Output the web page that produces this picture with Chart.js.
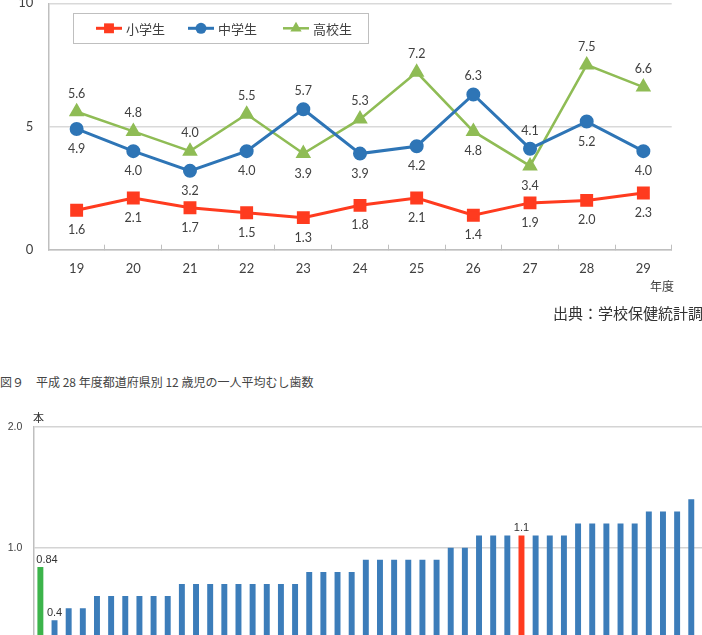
<!DOCTYPE html>
<html lang="ja">
<head>
<meta charset="utf-8">
<script src="https://cdn.jsdelivr.net/npm/chart.js@4.4.0/dist/chart.umd.min.js"></script>
<style>
  html, body { margin: 0; padding: 0; background: #fff; width: 702px; height: 635px; overflow: hidden; }
  body { position: relative; font-family: "Noto Sans CJK JP", sans-serif; }
  #trendWrap { position: absolute; left: 0; top: -10px; width: 702px; height: 305px; }
  #prefWrap { position: absolute; left: 0; top: 400px; width: 720px; height: 300px; }
  .note { position: absolute; white-space: nowrap; line-height: 1; color: #333; }
</style>
</head>
<body>
<div id="trendWrap"><canvas id="trendChart"></canvas></div>
<div class="note" style="left:650px; top:280px; font-size:12px; color:#404040;">年度</div>
<div class="note" style="left:553px; top:305px; font-size:15px;">出典：学校保健統計調査</div>
<div class="note" style="left:0; top:376px; font-size:12px; color:#444;">図９　平成 28 年度都道府県別 12 歳児の一人平均むし歯数</div>
<div id="prefWrap"><canvas id="prefChart"></canvas></div>
<div class="note" style="left:33px; top:412px; font-size:11px;">本</div>

<script>
// 年度別むし歯数
const years = ["19", "20", "21", "22", "23", "24", "25", "26", "27", "28", "29"];
const elementary = [1.6, 2.1, 1.7, 1.5, 1.3, 1.8, 2.1, 1.4, 1.9, 2.0, 2.3];
const juniorHigh = [4.9, 4.0, 3.2, 4.0, 5.7, 3.9, 4.2, 6.3, 4.1, 5.2, 4.0];
const highSchool = [5.6, 4.8, 4.0, 5.5, 3.9, 5.3, 7.2, 4.8, 3.4, 7.5, 6.6];
const yTicks = [0, 5, 10];

// which side the value label sits on (a = above, b = below)
const elementarySide = ["b", "b", "b", "b", "b", "b", "b", "b", "b", "b", "b"];
const juniorHighSide = ["b", "b", "b", "b", "a", "b", "b", "a", "a", "b", "b"];
const highSchoolSide = ["a", "a", "a", "a", "b", "a", "a", "b", "b", "a", "a"];

// 平成28年度 都道府県別 12歳児 (全国 + 昇順)
const prefCategories = ["全国", "1", "2", "3", "4", "5", "6", "7", "8", "9", "10",
    "11", "12", "13", "14", "15", "16", "17", "18", "19", "20",
    "21", "22", "23", "24", "25", "26", "27", "28", "29", "30",
    "31", "32", "33", "34", "35", "36", "37", "38", "39", "40",
    "41", "42", "43", "44", "45", "46", "47"];
const prefValues = [0.84, 0.4, 0.5, 0.5, 0.6, 0.6, 0.6, 0.6, 0.6, 0.6,
    0.7, 0.7, 0.7, 0.7, 0.7, 0.7, 0.7, 0.7, 0.7,
    0.8, 0.8, 0.8, 0.8,
    0.9, 0.9, 0.9, 0.9, 0.9, 0.9,
    1.0, 1.0,
    1.1, 1.1, 1.1, 1.1, 1.1, 1.1, 1.1,
    1.2, 1.2, 1.2, 1.2, 1.2,
    1.3, 1.3, 1.3,
    1.4, null];
const prefTicks = [0, 1, 2];
const nationalIdx = 0;
const ownPrefIdx = 34;
const labelledBars = [0, 1, 34];

const RED = "#ff3b1f";
const BLUE = "#2e75b6";
const GREEN = "#8fbc55";
const TEXT = "#404040";

const sideMap = [elementarySide, juniorHighSide, highSchoolSide];

const pointLabels = {
    id: "pointLabels",
    afterDatasetsDraw(chart) {
        const ctx = chart.ctx;
        ctx.save();
        ctx.font = "12.5px Lato";
        ctx.fillStyle = TEXT;
        ctx.textAlign = "center";
        ctx.textBaseline = "middle";
        chart.data.datasets.forEach((ds, i) => {
            const meta = chart.getDatasetMeta(i);
            meta.data.forEach((pt, j) => {
                const dy = sideMap[i][j] === "a" ? -18 : 20;
                ctx.fillText(ds.data[j].toFixed(1), pt.x, pt.y + dy);
            });
        });
        ctx.restore();
    }
};

function drawMarker(ctx, style, x, y, r, color) {
    ctx.fillStyle = color;
    ctx.beginPath();
    if (style === "rect") {
        const s = r * Math.SQRT1_2;
        ctx.rect(x - s, y - s, 2 * s, 2 * s);
    } else if (style === "triangle") {
        ctx.moveTo(x, y - r);
        ctx.lineTo(x + r * 0.866, y + r * 0.5);
        ctx.lineTo(x - r * 0.866, y + r * 0.5);
        ctx.closePath();
    } else {
        ctx.arc(x, y, r, 0, Math.PI * 2);
    }
    ctx.fill();
}

const boxLegend = {
    id: "boxLegend",
    afterDraw(chart) {
        const ctx = chart.ctx;
        ctx.save();
        ctx.fillStyle = "#fff";
        ctx.fillRect(73, 23, 295, 30);
        ctx.strokeStyle = "#bfbfbf";
        ctx.lineWidth = 1;
        ctx.strokeRect(73.5, 23.5, 295, 30);
        const starts = [96, 188, 283];
        const y = 38.3;
        chart.data.datasets.forEach((ds, i) => {
            const x0 = starts[i];
            ctx.strokeStyle = ds.borderColor;
            ctx.lineWidth = ds.borderWidth;
            ctx.beginPath();
            ctx.moveTo(x0, y);
            ctx.lineTo(x0 + 26, y);
            ctx.stroke();
            drawMarker(ctx, ds.pointStyle, x0 + 13, y, ds.pointRadius, ds.borderColor);
            ctx.fillStyle = TEXT;
            ctx.font = "13px 'Noto Sans CJK JP'";
            ctx.textAlign = "left";
            ctx.textBaseline = "middle";
            ctx.fillText(ds.label, x0 + 30, y + 0.5);
        });
        ctx.restore();
    }
};

new Chart(document.getElementById("trendChart"), {
    type: "line",
    data: {
        labels: years,
        datasets: [
            { label: "小学生", data: elementary, borderColor: RED, backgroundColor: RED, borderWidth: 3, pointStyle: "rect", pointRadius: 7 },
            { label: "中学生", data: juniorHigh, borderColor: BLUE, backgroundColor: BLUE, borderWidth: 3, pointStyle: "circle", pointRadius: 5.5 },
            { label: "高校生", data: highSchool, borderColor: GREEN, backgroundColor: GREEN, borderWidth: 2.5, pointStyle: "triangle", pointRadius: 6.5 }
        ]
    },
    options: {
        responsive: true,
        maintainAspectRatio: false,
        animation: false,
        layout: { autoPadding: false, padding: { top: 13.3, right: 30.3, left: 0, bottom: 0 } },
        elements: { line: { tension: 0 }, point: { borderWidth: 0, hoverRadius: 6 } },
        plugins: { legend: { display: false }, tooltip: { enabled: false } },
        scales: {
            x: {
                offset: true,
                grid: { offset: true, drawOnChartArea: false, drawTicks: true, tickLength: -5, color: "#bfbfbf" },
                border: { color: "#bfbfbf", width: 1.5 },
                ticks: { padding: 16.5, color: TEXT, font: { family: "Lato", size: 13 } },
                afterFit: s => { s.height = 305 - 259.7; }
            },
            y: {
                min: 0,
                max: 10,
                afterBuildTicks: s => { s.ticks = yTicks.map(v => ({ value: v })); },
                grid: { color: "#d9d9d9", lineWidth: 1.5, drawTicks: false },
                border: { color: "#bfbfbf", width: 1.5 },
                ticks: { padding: 15, color: TEXT, font: { family: "Lato", size: 13 } },
                afterFit: s => { s.width = 48.3; s.paddingTop = 0; s.paddingBottom = 0; }
            }
        }
    },
    plugins: [pointLabels, boxLegend]
});

const barLabels = {
    id: "barLabels",
    afterDatasetsDraw(chart) {
        const ctx = chart.ctx;
        const meta = chart.getDatasetMeta(0);
        const area = chart.chartArea;
        ctx.save();
        ctx.font = "11px 'Liberation Sans'";
        ctx.fillStyle = "#333";
        ctx.textBaseline = "bottom";
        ctx.textAlign = "left";
        labelledBars.forEach(i => {
            const bar = meta.data[i];
            const txt = String(prefValues[i]);
            const w = ctx.measureText(txt).width;
            const x = Math.max(bar.x - w / 2, area.left + 3);
            ctx.fillText(txt, x, bar.y - 2);
        });
        ctx.restore();
    }
};

const barColors = prefValues.map((v, i) => i === nationalIdx ? "#3cb44b" : (i === ownPrefIdx ? RED : "#3c7dba"));

new Chart(document.getElementById("prefChart"), {
    type: "bar",
    data: {
        labels: prefCategories,
        datasets: [{ label: "一人平均むし歯数", data: prefValues, backgroundColor: barColors, barPercentage: 0.42, categoryPercentage: 1 }]
    },
    options: {
        responsive: true,
        maintainAspectRatio: false,
        animation: false,
        layout: { autoPadding: false, padding: { top: 26.7, right: 7.5, left: 0, bottom: 0 } },
        plugins: { legend: { display: false }, tooltip: { enabled: false } },
        scales: {
            x: {
                grid: { display: false },
                border: { color: "#bfbfbf" },
                ticks: { display: false },
                afterFit: s => { s.height = 300 - 268.7; }
            },
            y: {
                min: 0,
                max: 2,
                afterBuildTicks: s => { s.ticks = prefTicks.map(v => ({ value: v })); },
                grid: { color: "#d4d4d4", lineWidth: 1.5, drawTicks: false },
                border: { color: "#bfbfbf", width: 1.5 },
                ticks: { padding: 11, color: TEXT, font: { family: "Liberation Sans", size: 10.5 }, callback: v => v.toFixed(1) },
                afterFit: s => { s.width = 33.3; s.paddingTop = 0; s.paddingBottom = 0; }
            }
        }
    },
    plugins: [barLabels]
});
</script>
</body>
</html>
